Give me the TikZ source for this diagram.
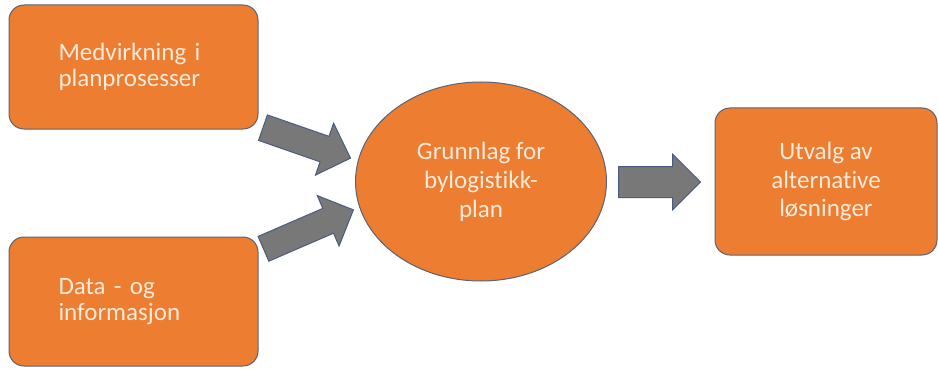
\documentclass[tikz,border=0pt]{standalone}
\usepackage{fontspec}
\setmainfont{Carlito}[Ligatures=NoCommon]
\usepackage{tikz}
\usetikzlibrary{shapes.geometric}
\usetikzlibrary{shapes.arrows}

\definecolor{boxorange}{HTML}{ED7D31}
\definecolor{boxedge}{HTML}{5B6374}
\definecolor{boxtext}{HTML}{FCEADB}
\definecolor{arrowgray}{HTML}{787878}
\definecolor{arrowedge}{HTML}{4A5B82}

\tikzset{
	box/.style={rectangle, rounded corners=15pt, draw=boxedge, fill=boxorange, line width=1pt,
		text=boxtext, inner sep=0pt, font=\fontsize{25}{26}\selectfont},
	bigarrow/.style={single arrow, draw=arrowedge, fill=arrowgray, line width=1pt,
		single arrow tip angle=90, inner xsep=0pt, minimum width=0pt, anchor=tail}
}

\begin{document}
\begin{tikzpicture}[x=1pt, y=-1pt]
			\useasboundingbox (0,0) rectangle (938,369);
			
			\node[box, minimum width=249pt, minimum height=124pt, text width=150pt, align=left] (mv) at (133.5,67) {Medvirkning i\\planprosesser};
			\node[box, minimum width=249pt, minimum height=129pt, text width=150pt, align=left] (data) at (133.5,301.5) {Data - og\\informasjon};
			\node[box, ellipse, minimum width=251pt, minimum height=199pt, align=center, font=\fontsize{25}{29}\selectfont] (grunn) at (481,181.5) {Grunnlag for\\bylogistikk-\\plan};
			\node[box, minimum width=222pt, minimum height=147pt, align=center, font=\fontsize{25}{28.5}\selectfont] (utvalg) at (826,181.5) {Utvalg av\\alternative\\løsninger};
			
			\node[bigarrow, inner ysep=13pt, single arrow head extend=14pt, minimum height=92.7pt, rotate=-19.2] (a1) at (262.5,127.5) {};
			\node[bigarrow, inner ysep=13pt, single arrow head extend=14pt, minimum height=98pt, rotate=23.4] (a2) at (263,249) {};
			\node[bigarrow, inner ysep=15pt, single arrow head extend=12.5pt, minimum height=82pt] (a3) at (618,182) {};
			
		\end{tikzpicture}
\end{document}
